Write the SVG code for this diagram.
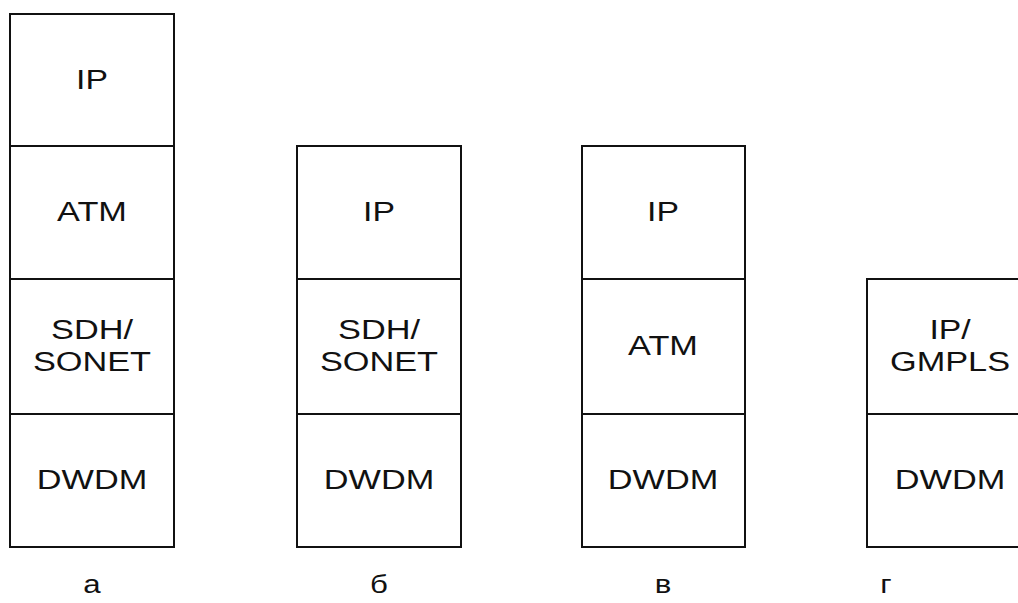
<svg xmlns="http://www.w3.org/2000/svg" width="1018" height="603" viewBox="0 0 1018 603">
<style>
.box{fill:#fff;stroke:#111;stroke-width:2}
.t{font-family:"Liberation Sans",Arial,sans-serif;font-size:27px;fill:#111;text-anchor:middle}
.l{font-family:"Liberation Sans",Arial,sans-serif;font-size:26px;fill:#111;text-anchor:middle}
</style>
<rect width="1018" height="603" fill="#fff"/>
<g id="stack-a">
<rect class="box" x="10" y="14" width="164" height="132"/>
<rect class="box" x="10" y="146" width="164" height="133"/>
<rect class="box" x="10" y="279" width="164" height="135"/>
<rect class="box" x="10" y="414" width="164" height="133"/>
<text class="t" transform="matrix(1.25 0 0 1 92 89)">IP</text>
<text class="t" transform="matrix(1.27 0 0 1 92 221)">ATM</text>
<text class="t" transform="matrix(1.27 0 0 1 92 339)">SDH/</text>
<text class="t" transform="matrix(1.27 0 0 1 92 371)">SONET</text>
<text class="t" transform="matrix(1.27 0 0 1 92 489)">DWDM</text>
<text class="l" transform="matrix(1.2 0 0 1 92 593)">а</text>
</g>
<g id="stack-b">
<rect class="box" x="297" y="146" width="164" height="133"/>
<rect class="box" x="297" y="279" width="164" height="135"/>
<rect class="box" x="297" y="414" width="164" height="133"/>
<text class="t" transform="matrix(1.25 0 0 1 379 221)">IP</text>
<text class="t" transform="matrix(1.27 0 0 1 379 339)">SDH/</text>
<text class="t" transform="matrix(1.27 0 0 1 379 371)">SONET</text>
<text class="t" transform="matrix(1.27 0 0 1 379 489)">DWDM</text>
<text class="l" transform="matrix(1.2 0 0 1 379 593)">б</text>
</g>
<g id="stack-v">
<rect class="box" x="582" y="146" width="163" height="133"/>
<rect class="box" x="582" y="279" width="163" height="135"/>
<rect class="box" x="582" y="414" width="163" height="133"/>
<text class="t" transform="matrix(1.25 0 0 1 663 221)">IP</text>
<text class="t" transform="matrix(1.27 0 0 1 663 355)">ATM</text>
<text class="t" transform="matrix(1.27 0 0 1 663 489)">DWDM</text>
<text class="l" transform="matrix(1.2 0 0 1 663 593)">в</text>
</g>
<g id="stack-g">
<rect class="box" x="867" y="279" width="165" height="135"/>
<rect class="box" x="867" y="414" width="165" height="133"/>
<text class="t" transform="matrix(1.25 0 0 1 950 339)">IP/</text>
<text class="t" transform="matrix(1.27 0 0 1 950 371)">GMPLS</text>
<text class="t" transform="matrix(1.27 0 0 1 950 489)">DWDM</text>
<text class="l" transform="matrix(1.2 0 0 1 886 593)">г</text>
</g>
<g id="connectors"/>
</svg>
